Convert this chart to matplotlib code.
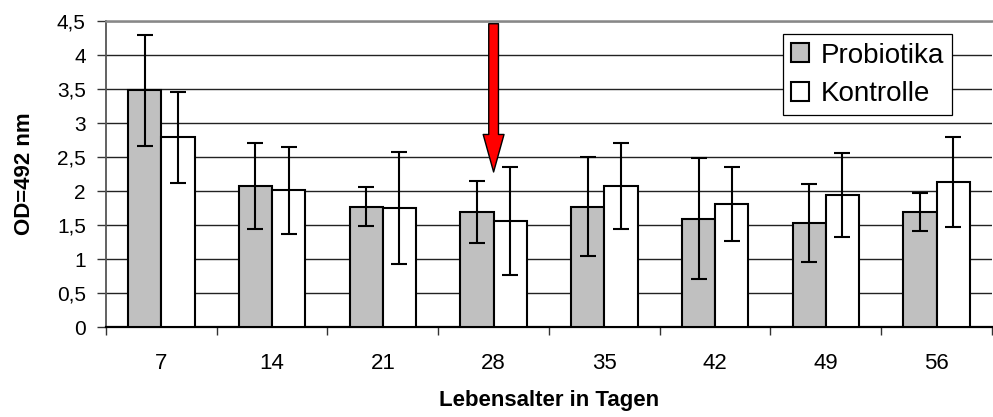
import numpy as np
import matplotlib.pyplot as plt
from matplotlib.ticker import FuncFormatter, MultipleLocator

plt.rcParams['font.family'] = ['Liberation Sans', 'DejaVu Sans']

tage = ['7', '14', '21', '28', '35', '42', '49', '56']
probiotika = [3.48, 2.07, 1.77, 1.69, 1.77, 1.59, 1.53, 1.69]
probiotika_err = [0.82, 0.63, 0.29, 0.46, 0.73, 0.89, 0.57, 0.28]
kontrolle = [2.79, 2.01, 1.75, 1.56, 2.07, 1.81, 1.94, 2.13]
kontrolle_err = [0.67, 0.64, 0.83, 0.80, 0.63, 0.55, 0.62, 0.66]

fig = plt.figure(figsize=(9.93, 4.17), dpi=100)
ax = fig.add_axes([0.1067, 0.2158, 0.8923, 0.7338])

x = np.arange(len(tage))
w = 0.3
ax.bar(x - w / 2, probiotika, w, color='#c0c0c0', edgecolor='black', linewidth=1.5,
       label='Probiotika', zorder=3)
ax.bar(x + w / 2, kontrolle, w, color='white', edgecolor='black', linewidth=1.5,
       label='Kontrolle', zorder=3)
ax.errorbar(x - w / 2, probiotika, yerr=probiotika_err, fmt='none', ecolor='black',
            elinewidth=1.5, capsize=5.5, capthick=1.5, zorder=4)
ax.errorbar(x + w / 2, kontrolle, yerr=kontrolle_err, fmt='none', ecolor='black',
            elinewidth=1.5, capsize=5.5, capthick=1.5, zorder=4)

# roter Pfeil bei Tag 28
ax.annotate('', xy=(3, 2.28), xytext=(3, 4.46),
            arrowprops=dict(arrowstyle='simple,head_length=2.7,head_width=1.5,tail_width=0.7',
                            facecolor='red', edgecolor='black', linewidth=1.0,
                            shrinkA=0, shrinkB=0),
            zorder=6)

ax.set_xlim(-0.5, len(tage) - 0.5)
ax.set_ylim(0, 4.5)
ax.yaxis.set_major_locator(MultipleLocator(0.5))
ax.yaxis.set_major_formatter(FuncFormatter(lambda v, p: ('%g' % v).replace('.', ',')))
ax.set_xticks(x)
ax.set_xticklabels(tage)
ax.set_xticks(np.arange(-0.5, len(tage)), minor=True)
ax.tick_params(axis='x', which='major', length=0, pad=19, labelsize=16)
ax.tick_params(axis='x', which='minor', length=6, width=1, color='#333333')
ax.tick_params(axis='y', length=6.5, width=1, color='#333333', labelsize=15, pad=8)

ax.grid(axis='y', color='#222222', linewidth=1.0, zorder=0)
ax.set_axisbelow(True)
ax.spines['right'].set_visible(False)
ax.spines['top'].set_color('#888888')
ax.spines['top'].set_linewidth(1.8)
ax.spines['left'].set_color('#555555')
ax.spines['left'].set_linewidth(1.3)
ax.spines['bottom'].set_color('black')
ax.spines['bottom'].set_linewidth(1.6)

ax.set_ylabel('OD=492 nm', fontsize=16, fontweight='bold', labelpad=16)
ax.set_xlabel('Lebensalter in Tagen', fontsize=16, fontweight='bold', labelpad=11)

leg = ax.legend(loc='upper right', bbox_to_anchor=(0.955, 0.957), fontsize=20,
                frameon=True, fancybox=False, edgecolor='black', framealpha=1,
                handlelength=0.65, handleheight=0.65, handletextpad=0.4,
                borderpad=0.3, labelspacing=0.45, borderaxespad=0)
leg.get_frame().set_linewidth(0.9)
leg.set_zorder(7)

fig.savefig('out.png', dpi=100)
